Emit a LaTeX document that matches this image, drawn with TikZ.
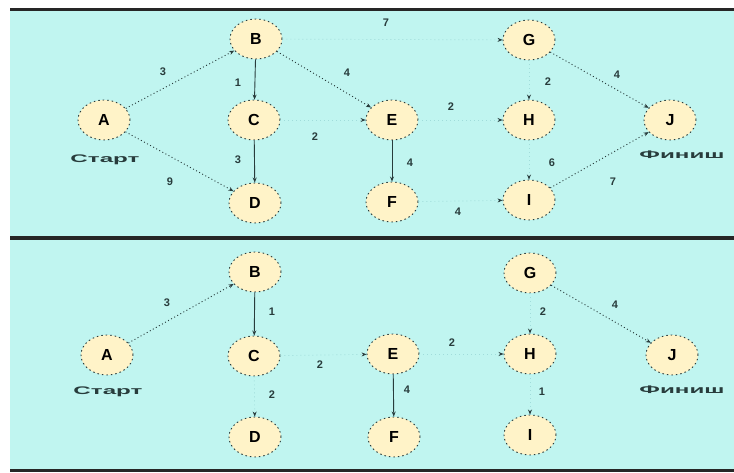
\documentclass[tikz,border=0pt]{standalone}
\usepackage{fontspec}
\setmainfont{Liberation Sans}
\usetikzlibrary{arrows.meta,shapes.geometric}
\definecolor{bgc}{RGB}{192,245,240}
\definecolor{nodefill}{RGB}{255,243,200}
\definecolor{faint}{RGB}{160,220,218}
\definecolor{edgec}{RGB}{40,60,60}
\tikzset{
  vtx/.style={ellipse, draw=edgec, dash pattern=on 1.5pt off 3pt, line width=0.9pt,
    fill=nodefill, minimum width=52pt, minimum height=40pt, inner sep=0pt,
    font=\bfseries\fontsize{16}{16}\selectfont},
  captxt/.style={font=\bfseries\fontsize{11}{11}\selectfont, text=edgec, xscale=2.2},
  wt/.style={font=\bfseries\fontsize{11}{11}\selectfont, text=edgec},
  dotedge/.style={draw=edgec, dash pattern=on 1pt off 2.5pt, line width=0.9pt, -{Stealth[length=5pt,width=4pt]}},
  solidedge/.style={draw=edgec, line width=0.9pt, -{Stealth[length=5pt,width=4pt]}},
  faintedge/.style={draw=faint, dash pattern=on 1pt off 3pt, line width=0.7pt, -{Stealth[length=5pt,width=4pt,color=edgec]}},
  frameline/.style={line width=3pt, draw=black!85}
}
\begin{document}
\begin{tikzpicture}[x=1pt,y=-1pt]
\useasboundingbox (0,0) rectangle (734,473);
\fill[white] (0,0) rectangle (734,473);
\fill[bgc] (10,10) rectangle (734,471);
\draw[frameline] (10,10) -- (734,10);
\draw[line width=4pt, draw=black!85] (10,238) -- (734,238);
\draw[frameline] (10,470) -- (734,470);

% ---------- top graph ----------
\node[vtx] (A) at (104,120) {A};
\node[vtx] (B) at (256,39) {B};
\node[vtx] (C) at (254,120) {C};
\node[vtx] (D) at (255,203) {D};
\node[vtx] (E) at (392,120) {E};
\node[vtx] (F) at (392,202) {F};
\node[vtx] (G) at (529,40) {G};
\node[vtx] (H) at (529,120) {H};
\node[vtx] (I) at (529,200) {I};
\node[vtx] (J) at (670,120) {J};
\node[captxt] (As) at (105,160) {Старт};
\node[captxt] (Jf) at (682,155) {Финиш};

\draw[dotedge] (A) -- (B);
\draw[dotedge] (A) -- (D);
\draw[solidedge] (B) -- (C);
\draw[solidedge] (C) -- (D);
\draw[dotedge] (B) -- (E);
\draw[faintedge] (C) -- (E);
\draw[faintedge] (B) -- (G);
\draw[solidedge] (E) -- (F);
\draw[faintedge] (E) -- (H);
\draw[faintedge] (G) -- (H);
\draw[dotedge] (G) -- (J);
\draw[faintedge] (H) -- (I);
\draw[dotedge] (I) -- (J);
\draw[faintedge] (F) -- (I);

\node[wt] (w1) at (163,72) {3};
\node[wt] (w2) at (170,182) {9};
\node[wt] (w3) at (238,83) {1};
\node[wt] (w4) at (238,160) {3};
\node[wt] (w5) at (315,137) {2};
\node[wt] (w6) at (347,73) {4};
\node[wt] (w7) at (386,23) {7};
\node[wt] (w8) at (410,163) {4};
\node[wt] (w9) at (451,107) {2};
\node[wt] (w10) at (548,82) {2};
\node[wt] (w11) at (617,75) {4};
\node[wt] (w12) at (552,163) {6};
\node[wt] (w13) at (613,182) {7};
\node[wt] (w14) at (458,212) {4};

% ---------- bottom graph ----------
\node[vtx] (A2) at (107,355) {A};
\node[vtx] (B2) at (255,272) {B};
\node[vtx] (C2) at (254,356) {C};
\node[vtx] (D2) at (255,437) {D};
\node[vtx] (E2) at (393,354) {E};
\node[vtx] (F2) at (394,437) {F};
\node[vtx] (G2) at (530,273) {G};
\node[vtx] (H2) at (530,354) {H};
\node[vtx] (I2) at (530,435) {I};
\node[vtx] (J2) at (672,355) {J};
\node[captxt] (As2) at (108,392) {Старт};
\node[captxt] (Jf2) at (682,390) {Финиш};

\draw[dotedge] (A2) -- (B2);
\draw[solidedge] (B2) -- (C2);
\draw[faintedge] (C2) -- (D2);
\draw[faintedge] (C2) -- (E2);
\draw[solidedge] (E2) -- (F2);
\draw[faintedge] (E2) -- (H2);
\draw[faintedge] (G2) -- (H2);
\draw[dotedge] (G2) -- (J2);
\draw[faintedge] (H2) -- (I2);

\node[wt] (v1) at (167,303) {3};
\node[wt] (v2) at (272,312) {1};
\node[wt] (v3) at (272,395) {2};
\node[wt] (v4) at (320,365) {2};
\node[wt] (v5) at (407,390) {4};
\node[wt] (v6) at (452,343) {2};
\node[wt] (v7) at (543,312) {2};
\node[wt] (v8) at (615,305) {4};
\node[wt] (v9) at (542,392) {1};
\end{tikzpicture}
\end{document}
